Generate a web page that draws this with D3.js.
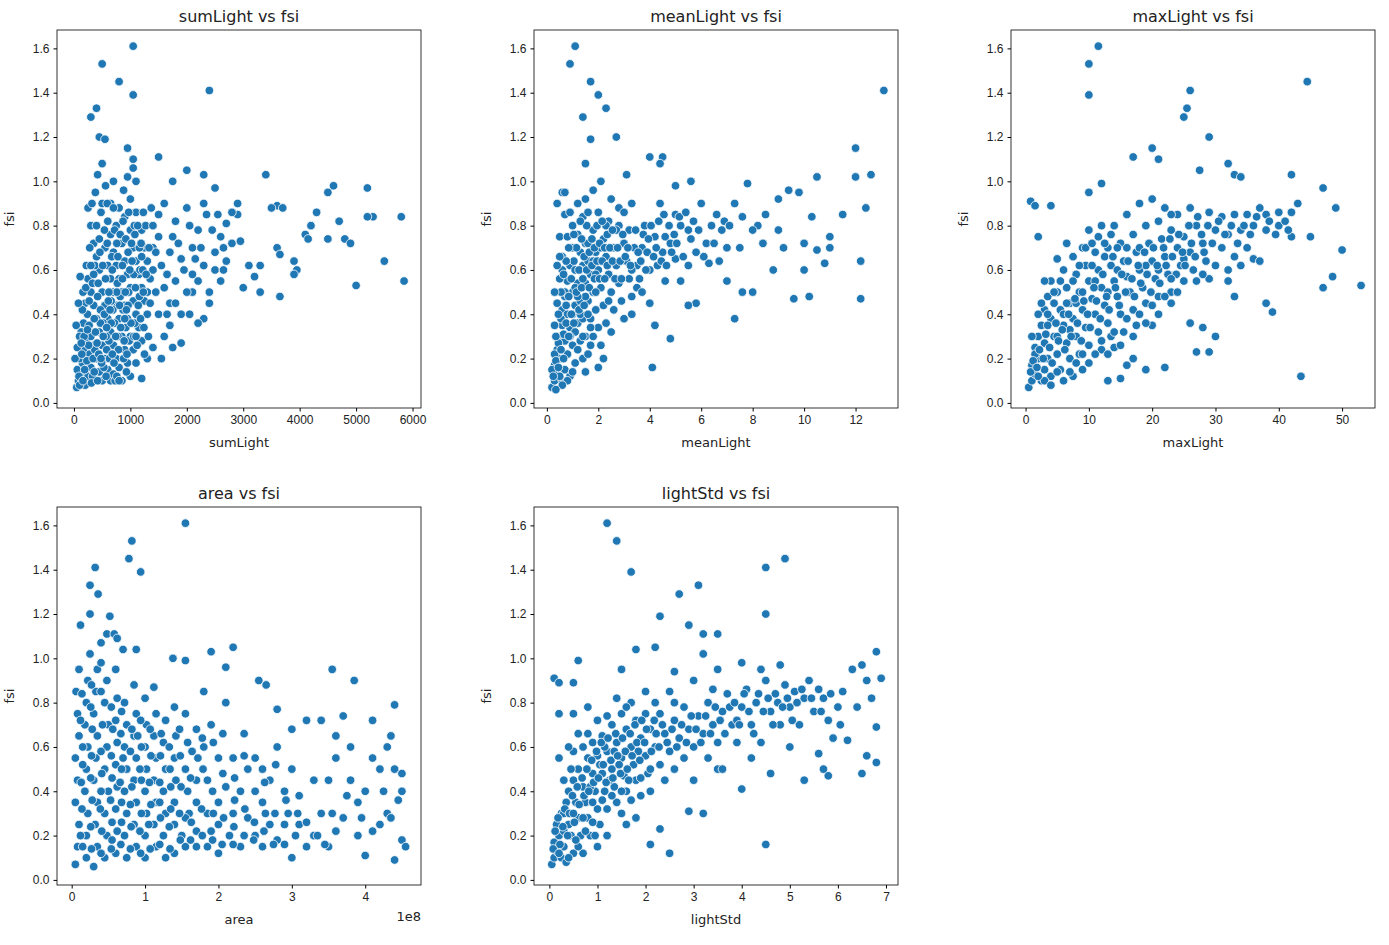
<!DOCTYPE html>
<html><head><meta charset="utf-8">
<script src="https://cdn.jsdelivr.net/npm/d3@7"></script>
<style>
body{margin:0;background:#fff;font-family:"DejaVu Sans",sans-serif;}
.tick text{font-size:12px;fill:#222;}
.title{font-size:16px;fill:#222;}
.lab{font-size:13px;fill:#222;}
</style></head><body><div id="chart"></div>
<script>
// fsi against each light / area variable
const sumLight = [[1050,1.61],[500,1.53],[800,1.45],[1050,1.39],[2400,1.41],[400,1.33],[300,1.29],[450,1.2],[550,1.19],[950,1.15],[1050,1.1],[1500,1.11],[500,1.08],[1050,1.06],[2000,1.05],[2300,1.03],[3400,1.03],[950,1.02],[1100,1.0],[1750,1.0],[4600,0.98],[5200,0.97],[2500,0.97],[4500,0.95],[5800,0.84],[5300,0.84],[5200,0.84],[4700,0.82],[4300,0.86],[4200,0.8],[4100,0.76],[4150,0.74],[4500,0.74],[4800,0.74],[4900,0.72],[5000,0.53],[5500,0.64],[5850,0.55],[3600,0.89],[3700,0.88],[3500,0.88],[3600,0.7],[3650,0.67],[3650,0.48],[3900,0.64],[3950,0.6],[3900,0.58],[3300,0.62],[3300,0.5],[3200,0.57],[3000,0.52],[2900,0.9],[2900,0.85],[2800,0.86],[2700,0.81],[2600,0.75],[2800,0.72],[2700,0.64],[2500,0.6],[2600,0.55],[2400,0.5],[2300,0.38],[2200,0.36],[2400,0.45],[2100,0.7],[2200,0.78],[2000,0.88],[1900,0.65],[1800,0.55],[1700,0.45],[1600,0.3],[1700,0.35],[1900,0.4],[1900,0.27],[1800,0.82],[2100,0.58],[2300,0.62],[2500,0.68],[2300,0.9],[2100,0.5],[1600,0.9],[1500,0.75],[1400,0.6],[1300,0.5],[1500,0.4],[1400,0.25],[1300,0.2],[1200,0.11],[1600,0.52],[1700,0.68],[1500,0.85],[1400,0.7],
[50,0.07],[80,0.1],[120,0.13],[60,0.15],[150,0.18],[100,0.2],[200,0.08],[250,0.12],[300,0.16],[180,0.24],[220,0.28],[280,0.22],[130,0.32],[170,0.36],[240,0.4],[300,0.3],[350,0.26],[400,0.2],[450,0.14],[500,0.1],[350,0.44],[300,0.5],[250,0.56],[200,0.45],[400,0.38],[450,0.32],[500,0.26],[550,0.2],[600,0.15],[650,0.1],[700,0.13],[450,0.6],[400,0.66],[350,0.72],[300,0.8],[250,0.88],[500,0.5],[550,0.44],[600,0.38],[650,0.32],[700,0.26],[750,0.2],[800,0.16],[850,0.1],[550,0.7],[600,0.62],[650,0.56],[700,0.5],[750,0.44],[800,0.38],[850,0.3],[900,0.24],[950,0.18],[1000,0.12],[600,0.82],[650,0.76],[700,0.68],[750,0.62],[800,0.56],[850,0.5],[900,0.44],[950,0.38],[1000,0.3],[1050,0.24],[1100,0.18],[650,0.9],[750,0.8],[850,0.72],[900,0.64],[950,0.58],[1000,0.52],[1050,0.46],[1100,0.4],[1150,0.34],[1200,0.28],[800,0.88],[900,0.84],[1000,0.78],[1050,0.7],[1100,0.64],[1150,0.58],[1200,0.52],[1250,0.46],[1300,0.4],[1000,0.92],[1100,0.86],[1200,0.78],[1250,0.7],[1300,0.64],[1350,0.56],[1200,0.66],[350,0.58],[420,0.48],[520,0.36],[620,0.28],[720,0.36],[820,0.48],[920,0.34],[150,0.42],[100,0.3],[60,0.25],[40,0.35],[220,0.62],[320,0.9],[380,0.95],[420,1.03],[560,0.98],[700,1.0],[880,0.96],[480,0.86],[560,0.56],[660,0.46],[760,0.72],[860,0.62],[960,0.68],[1060,0.58],[1160,0.48],[1160,0.7],[780,0.3],[880,0.2],[980,0.28],[1080,0.36],[1250,0.22],[330,0.12],[530,0.16],[730,0.1],[930,0.14],[110,0.57],[80,0.45],[20,0.2],[270,0.35],[370,0.24],[470,0.42],[570,0.3],[670,0.66],[770,0.54],[870,0.42],[970,0.5],[1070,0.8],[1170,0.6],[1270,0.8],[1370,0.88],[1400,0.8],[1450,0.68],[1350,0.45]];
const sumLightDense = [[90,0.12],[140,0.22],[190,0.15],[230,0.19],[260,0.26],[310,0.09],[340,0.2],[380,0.32],[410,0.27],[440,0.22],[470,0.36],[490,0.18],[520,0.3],[540,0.4],[580,0.24],[610,0.46],[630,0.2],[660,0.36],[690,0.42],[710,0.18],[740,0.3],[760,0.5],[790,0.24],[810,0.44],[830,0.34],[860,0.56],[890,0.28],[910,0.5],[940,0.22],[960,0.44],[990,0.6],[1010,0.36],[1030,0.64],[1060,0.3],[1090,0.52],[1120,0.26],[1140,0.44],[1180,0.38],[1220,0.6],[1240,0.34],[1280,0.58],[1320,0.3],[160,0.5],[210,0.52],[270,0.46],[330,0.54],[370,0.62],[430,0.54],[460,0.68],[510,0.62],[540,0.78],[590,0.72],[620,0.5],[680,0.6],[720,0.78],[780,0.66],[820,0.76],[870,0.82],[920,0.74],[970,0.86],[1020,0.72],[1080,0.76],[1130,0.8],[1190,0.72],[1230,0.86],[300,0.62],[280,0.7],[400,0.8],[450,0.74],[500,0.9],[590,0.9],[700,0.88],[180,0.3],[130,0.27],[240,0.33],[360,0.38],[580,0.34],[640,0.42],[900,0.38],[1100,0.3],[100,0.08],[160,0.1],[420,0.1],[570,0.12],[760,0.12],[800,0.1],[360,0.14],[480,0.2],[680,0.22],[930,0.42],[1230,0.5],[1330,0.7],[1450,0.5],[1550,0.62],[1650,0.58],[1750,0.75],[1850,0.72],[1950,0.6],[2050,0.8],[2150,0.65],[2250,0.7],[2350,0.85],[2450,0.78],[2550,0.85],[2650,0.7],[1800,0.45],[2000,0.5],[1650,0.4],[1750,0.25],[1550,0.2],[2050,0.4],[2200,0.55],[2650,0.6],[2950,0.73],[3100,0.62]];

const meanLight = [[1.1,1.61],[0.9,1.53],[1.7,1.45],[2.0,1.39],[13.1,1.41],[2.3,1.33],[1.4,1.29],[2.7,1.2],[1.7,1.19],[12.0,1.15],[4.0,1.11],[4.5,1.11],[4.4,1.08],[1.5,1.08],[0.4,0.9],[0.6,0.95],[0.7,0.95],[2.1,1.0],[3.1,1.03],[5.0,0.98],[5.6,1.0],[7.8,0.99],[9.4,0.96],[9.8,0.95],[10.5,1.02],[12.6,1.03],[12.0,1.02],[11.5,0.85],[11.0,0.75],[12.4,0.88],[12.2,0.64],[12.2,0.47],[10.8,0.63],[10.5,0.69],[10.2,0.48],[9.6,0.47],[10.0,0.6],[10.0,0.72],[9.0,0.78],[8.5,0.85],[8.0,0.5],[7.6,0.5],[7.3,0.38],[7.0,0.55],[7.0,0.7],[6.8,0.78],[6.3,0.63],[6.0,0.9],[6.2,0.72],[5.8,0.45],[5.5,0.44],[5.2,0.55],[5.0,0.65],[5.5,0.78],[5.0,0.85],[4.8,0.29],[4.2,0.35],[4.1,0.16],[4.0,0.45],[3.5,0.52],[3.7,0.7],[3.8,0.8],[3.3,0.9],[4.4,0.9],[4.3,0.62],[4.6,0.75],[6.6,0.85],[7.3,0.9],[8.2,0.8],[9.0,0.92],[11.0,0.7],[8.8,0.6],
[0.2,0.07],[0.3,0.1],[0.4,0.13],[0.3,0.17],[0.5,0.2],[0.4,0.24],[0.6,0.1],[0.7,0.15],[0.5,0.3],[0.6,0.35],[0.7,0.28],[0.8,0.22],[0.9,0.12],[0.6,0.42],[0.7,0.48],[0.8,0.4],[0.9,0.34],[1.0,0.26],[1.1,0.18],[0.8,0.55],[0.9,0.62],[1.0,0.5],[1.1,0.44],[1.2,0.36],[1.3,0.28],[1.4,0.2],[1.0,0.7],[1.1,0.6],[1.2,0.54],[1.3,0.46],[1.4,0.38],[1.5,0.3],[1.6,0.22],[1.2,0.76],[1.3,0.68],[1.4,0.62],[1.5,0.54],[1.6,0.46],[1.7,0.38],[1.8,0.3],[1.4,0.84],[1.5,0.72],[1.6,0.64],[1.7,0.58],[1.8,0.5],[1.9,0.42],[2.0,0.34],[2.1,0.26],[1.6,0.86],[1.8,0.78],[1.9,0.68],[2.0,0.6],[2.1,0.52],[2.2,0.44],[2.3,0.36],[2.0,0.86],[2.2,0.74],[2.3,0.66],[2.4,0.58],[2.5,0.5],[2.6,0.42],[2.4,0.82],[2.6,0.7],[2.7,0.62],[2.8,0.54],[2.9,0.46],[3.0,0.38],[2.8,0.8],[3.0,0.72],[3.1,0.64],[3.2,0.56],[3.3,0.48],[3.2,0.78],[3.4,0.7],[3.5,0.62],[3.6,0.56],[3.9,0.68],[4.0,0.6],[4.2,0.75],[4.5,0.68],[4.8,0.72],[5.2,0.8],[5.8,0.68],[0.5,0.56],[0.4,0.45],[0.3,0.35],[0.5,0.75],[0.6,0.66],[0.7,0.85],[0.8,0.75],[0.9,0.86],[1.0,0.8],[1.2,0.9],[1.5,0.92],[1.8,0.96],[2.5,0.92],[2.8,0.88],[3.0,0.86],[0.2,0.15],[0.3,0.22],[0.4,0.3],[0.5,0.12],[0.8,0.1],[1.1,0.32],[1.3,0.4],[1.5,0.48],[1.7,0.26],[1.9,0.58],[2.1,0.7],[2.3,0.8],[2.5,0.32],[2.7,0.78],[3.3,0.6],[3.7,0.5],[4.6,0.55],[5.5,0.62],[6.5,0.72],[7.5,0.7],[8.0,0.78],[9.2,0.7],[10.3,0.84],[1.0,0.4],[1.2,0.48],[1.4,0.56],[1.6,0.72],[1.8,0.64],[0.9,0.3],[0.7,0.5],[0.6,0.6],[1.1,0.52],[1.3,0.6],[2.2,0.2],[2.0,0.16],[1.5,0.14]];
const meanLightDense = [[0.25,0.12],[0.35,0.19],[0.45,0.16],[0.45,0.27],[0.55,0.24],[0.55,0.38],[0.65,0.31],[0.65,0.2],[0.75,0.36],[0.75,0.44],[0.85,0.3],[0.85,0.48],[0.95,0.4],[0.95,0.56],[1.05,0.36],[1.05,0.64],[1.15,0.5],[1.15,0.7],[1.25,0.42],[1.25,0.6],[1.35,0.52],[1.35,0.74],[1.45,0.44],[1.45,0.66],[1.55,0.6],[1.55,0.8],[1.65,0.52],[1.65,0.68],[1.75,0.62],[1.75,0.74],[1.85,0.56],[1.85,0.7],[1.95,0.64],[1.95,0.8],[2.05,0.56],[2.05,0.72],[2.15,0.64],[2.15,0.82],[2.25,0.56],[2.25,0.7],[2.35,0.62],[2.35,0.76],[2.45,0.7],[2.55,0.64],[2.55,0.78],[2.65,0.56],[2.75,0.7],[2.85,0.64],[2.95,0.76],[3.05,0.66],[3.15,0.7],[3.25,0.62],[3.45,0.78],[3.55,0.68],[3.65,0.64],[3.75,0.76],[3.85,0.6],[3.95,0.74],[4.05,0.8],[4.15,0.66],[4.25,0.7],[4.35,0.82],[4.45,0.64],[4.55,0.85],[4.65,0.62],[4.75,0.8],[4.85,0.68],[4.95,0.76],[5.05,0.72],[5.15,0.84],[5.3,0.66],[5.4,0.86],[5.6,0.74],[5.7,0.82],[5.9,0.78],[6.1,0.66],[6.4,0.8],[6.7,0.64],[6.9,0.82],[7.1,0.8],[7.6,0.84],[8.4,0.72],[0.35,0.3],[0.45,0.4],[0.55,0.5],[0.65,0.58],[0.75,0.64],[0.85,0.7],[1.05,0.76],[1.3,0.82],[0.3,0.5],[0.4,0.62],[0.5,0.66],[1.7,0.34],[1.9,0.5],[2.4,0.46],[2.9,0.56],[3.3,0.4],[1.2,0.24],[1.4,0.3],[0.6,0.08],[0.35,0.06],[1.0,0.14],[1.6,0.4]];

const maxLight = [[11.5,1.61],[10,1.53],[10,1.39],[44.5,1.45],[26,1.41],[25.5,1.33],[25,1.29],[29,1.2],[20,1.15],[21,1.1],[17,1.11],[12,0.99],[10,0.95],[0.8,0.91],[1.5,0.89],[4,0.89],[2,0.75],[32,1.08],[27.5,1.05],[33,1.03],[34,1.02],[42,1.03],[47,0.97],[49,0.88],[50,0.69],[48.5,0.57],[53,0.53],[47,0.52],[45,0.75],[43,0.9],[42,0.75],[40,0.8],[38,0.85],[38,0.45],[39,0.41],[36,0.65],[35,0.7],[33,0.48],[32,0.6],[30,0.3],[29,0.23],[28,0.34],[27,0.23],[26,0.36],[43.5,0.12],[22,0.16],[19,0.15],[20,0.35],[17,0.2],[15,0.11],[16,0.17],[14,0.25],[13,0.1],
[0.5,0.07],[1,0.1],[1.5,0.13],[1,0.17],[2,0.2],[1.5,0.25],[2.5,0.1],[3,0.15],[2,0.3],[2.5,0.35],[3,0.27],[3.5,0.2],[4,0.12],[3,0.42],[3.5,0.48],[4,0.38],[4.5,0.3],[5,0.22],[5.5,0.15],[4,0.55],[5,0.5],[5.5,0.42],[6,0.35],[6.5,0.27],[7,0.2],[7.5,0.12],[5,0.65],[6,0.6],[6.5,0.52],[7,0.45],[7.5,0.38],[8,0.3],[8.5,0.22],[9,0.15],[6.5,0.72],[7.5,0.66],[8,0.58],[8.5,0.5],[9,0.42],[9.5,0.34],[10,0.26],[9,0.7],[9.5,0.62],[10,0.55],[10.5,0.47],[11,0.4],[11.5,0.32],[12,0.24],[10,0.78],[11,0.68],[11.5,0.6],[12,0.52],[12.5,0.44],[13,0.36],[13.5,0.3],[12,0.8],[13,0.7],[13.5,0.62],[14,0.55],[14.5,0.48],[15,0.4],[15.5,0.32],[14,0.8],[15,0.72],[15.5,0.64],[16,0.57],[16.5,0.5],[17,0.42],[17.5,0.35],[16,0.85],[17,0.76],[17.5,0.68],[18,0.6],[18.5,0.52],[19,0.45],[18,0.9],[19,0.8],[19.5,0.72],[20,0.64],[20.5,0.56],[21,0.48],[20,0.92],[21,0.82],[21.5,0.74],[22,0.66],[22.5,0.58],[23,0.5],[22,0.88],[23,0.78],[24,0.7],[24.5,0.62],[25,0.55],[24,0.85],[25,0.75],[26,0.68],[26.5,0.6],[26,0.88],[27,0.8],[28,0.72],[28.5,0.64],[29,0.56],[29,0.86],[30,0.78],[31,0.7],[31,0.84],[32,0.76],[33,0.85],[34,0.78],[34,0.62],[35,0.85],[36,0.8],[37,0.88],[38,0.78],[40,0.86],[41,0.82],[42,0.86],[37,0.64],[33,0.66],[30,0.62],[27,0.55],[23,0.45],[19,0.62],[16,0.7],[13,0.5],[11,0.55],[8,0.45],[6,0.4],[4.5,0.45],[3.5,0.35],[2,0.4],[1,0.3],[1.5,0.22],[0.8,0.14],[3,0.55],[5,0.3],[7,0.33],[9,0.5],[10.5,0.62],[12.5,0.66],[14.5,0.6],[18,0.7],[21,0.6],[25,0.65],[28,0.58],[32,0.55],[23,0.85]];
const maxLightDense = [[1.2,0.19],[1.8,0.16],[2.2,0.24],[2.8,0.2],[3.2,0.31],[3.8,0.25],[4.2,0.18],[4.8,0.36],[5.2,0.28],[5.8,0.33],[6.2,0.24],[6.8,0.4],[7.2,0.3],[7.8,0.47],[8.2,0.36],[8.8,0.28],[9.2,0.46],[9.8,0.4],[10.2,0.34],[10.8,0.52],[11.2,0.46],[11.8,0.38],[12.2,0.58],[12.8,0.48],[13.2,0.42],[13.8,0.66],[14.2,0.52],[14.8,0.44],[15.2,0.58],[15.8,0.5],[16.2,0.64],[16.8,0.56],[17.2,0.48],[17.8,0.62],[18.2,0.54],[18.8,0.68],[19.2,0.58],[19.8,0.5],[20.2,0.7],[20.8,0.62],[21.2,0.54],[21.8,0.7],[22.2,0.62],[22.8,0.74],[23.2,0.66],[23.8,0.58],[24.2,0.76],[24.8,0.68],[25.2,0.62],[25.8,0.8],[26.2,0.72],[26.8,0.66],[27.2,0.84],[27.8,0.76],[28.2,0.68],[28.8,0.8],[29.5,0.72],[30.5,0.82],[31.5,0.76],[32.5,0.8],[33.5,0.72],[34.5,0.8],[35.5,0.76],[36.5,0.84],[38.5,0.82],[39.5,0.76],[41.5,0.78],[2.5,0.45],[3.5,0.4],[4.5,0.5],[5.5,0.55],[6.5,0.45],[7.5,0.55],[8.5,0.62],[9.5,0.7],[10.5,0.72],[11.5,0.75],[12.5,0.72],[13.5,0.76],[14.5,0.7],[5,0.14],[6,0.1],[7,0.14],[8,0.18],[9,0.22],[10,0.18],[11,0.22],[12,0.28],[13,0.22],[14,0.32],[15,0.26],[16,0.38],[17,0.3],[18,0.4],[19,0.36],[20,0.44],[21,0.4],[22,0.48],[23,0.56],[24,0.5],[3,0.1],[4,0.08],[2,0.12]];

const area = [[1.55,1.61],[0.82,1.53],[0.78,1.45],[0.94,1.39],[0.32,1.41],[0.25,1.33],[0.36,1.29],[0.25,1.2],[0.52,1.19],[0.12,1.15],[0.48,1.11],[0.58,1.11],[0.62,1.09],[0.4,1.07],[0.88,1.04],[0.7,1.04],[1.38,1.0],[1.55,0.99],[1.9,1.03],[2.2,1.05],[2.1,0.96],[2.55,0.9],[2.65,0.88],[3.55,0.95],[3.85,0.9],[4.4,0.79],[4.1,0.72],[3.7,0.74],[3.4,0.72],[3.2,0.72],[3.0,0.68],[2.8,0.77],[4.35,0.65],[4.3,0.6],[4.4,0.5],[4.5,0.48],[4.5,0.4],[4.45,0.36],[4.3,0.3],[4.5,0.18],[4.55,0.15],[4.4,0.09],[4.0,0.11],[3.9,0.2],[4.0,0.4],[4.2,0.5],[4.1,0.55],[3.8,0.6],[3.6,0.55],[3.5,0.45],[3.4,0.3],[3.3,0.2],[3.2,0.15],[3.1,0.38],[3.0,0.5],[3.0,0.1],[2.9,0.25],[2.8,0.6],[2.7,0.45],[2.6,0.35],[2.5,0.2],[2.4,0.5],[2.35,0.66],[2.3,0.15],[2.2,0.3],[2.1,0.42],[2.0,0.55],[1.9,0.7],[1.8,0.6],[1.7,0.45],[1.6,0.3],[1.5,0.2],[1.4,0.12],[1.8,0.85],[1.7,0.15],[1.9,0.22],[2.0,0.12],[2.1,0.8],[2.5,0.55],[2.7,0.25],[3.3,0.45],[3.6,0.65],[3.7,0.28],[3.9,0.35],[4.2,0.25],[2.9,0.4],
[0.05,0.07],[0.08,0.15],[0.1,0.25],[0.05,0.35],[0.08,0.45],[0.05,0.55],[0.1,0.65],[0.08,0.75],[0.06,0.85],[0.1,0.95],[0.2,0.1],[0.2,0.2],[0.22,0.3],[0.18,0.4],[0.2,0.5],[0.22,0.6],[0.18,0.7],[0.2,0.8],[0.22,0.9],[0.3,0.06],[0.35,0.15],[0.32,0.25],[0.35,0.35],[0.3,0.45],[0.33,0.55],[0.35,0.65],[0.3,0.75],[0.33,0.85],[0.35,0.95],[0.45,0.1],[0.48,0.2],[0.45,0.3],[0.5,0.4],[0.45,0.5],[0.48,0.6],[0.5,0.7],[0.45,0.8],[0.48,0.9],[0.6,0.12],[0.62,0.22],[0.6,0.32],[0.62,0.42],[0.6,0.52],[0.62,0.62],[0.6,0.72],[0.62,0.82],[0.6,0.95],[0.75,0.1],[0.72,0.2],[0.75,0.3],[0.72,0.4],[0.75,0.5],[0.72,0.6],[0.75,0.7],[0.72,0.8],[0.88,0.15],[0.85,0.25],[0.88,0.35],[0.85,0.45],[0.88,0.55],[0.85,0.65],[0.88,0.75],[0.85,0.88],[1.0,0.1],[1.0,0.2],[1.02,0.3],[1.0,0.4],[1.02,0.5],[1.0,0.6],[1.02,0.7],[1.0,0.82],[1.15,0.15],[1.12,0.25],[1.15,0.35],[1.12,0.45],[1.15,0.55],[1.12,0.65],[1.15,0.75],[1.12,0.87],[1.28,0.1],[1.25,0.2],[1.28,0.3],[1.25,0.4],[1.28,0.5],[1.25,0.62],[1.28,0.72],[1.4,0.25],[1.4,0.35],[1.42,0.45],[1.4,0.55],[1.42,0.65],[1.4,0.78],[1.55,0.15],[1.55,0.28],[1.58,0.4],[1.55,0.5],[1.58,0.62],[1.55,0.75],[1.7,0.22],[1.7,0.35],[1.72,0.55],[1.7,0.68],[1.85,0.15],[1.85,0.3],[1.85,0.45],[2.0,0.25],[2.0,0.35],[2.15,0.2],[2.2,0.55],[2.3,0.4],[2.4,0.28],[2.6,0.15],[2.6,0.5],[2.8,0.18],[2.95,0.3],[3.1,0.25],[3.5,0.15],[3.8,0.45],[0.15,0.6],[0.25,1.02],[0.4,0.98],[0.55,0.18],[0.68,0.35],[0.95,0.45],[1.05,0.25],[1.35,0.42],[0.15,0.15],[0.4,0.4],[0.7,0.55],[0.9,0.65],[1.2,0.35]];
const areaDense = [[0.12,0.2],[0.14,0.32],[0.13,0.44],[0.15,0.52],[0.12,0.72],[0.14,0.84],[0.27,0.14],[0.26,0.24],[0.28,0.36],[0.26,0.46],[0.27,0.56],[0.28,0.68],[0.26,0.78],[0.27,0.88],[0.4,0.12],[0.41,0.22],[0.39,0.32],[0.41,0.48],[0.4,0.58],[0.42,0.7],[0.4,0.85],[0.54,0.14],[0.55,0.26],[0.53,0.36],[0.55,0.46],[0.54,0.56],[0.56,0.68],[0.54,0.78],[0.67,0.16],[0.68,0.26],[0.66,0.44],[0.68,0.5],[0.67,0.66],[0.68,0.76],[0.8,0.14],[0.81,0.24],[0.8,0.34],[0.82,0.42],[0.8,0.58],[0.82,0.68],[0.94,0.12],[0.93,0.22],[0.95,0.3],[0.93,0.5],[0.95,0.6],[0.94,0.72],[1.07,0.14],[1.08,0.34],[1.06,0.44],[1.08,0.56],[1.07,0.68],[1.2,0.16],[1.21,0.28],[1.2,0.44],[1.21,0.56],[1.22,0.66],[1.34,0.14],[1.33,0.24],[1.35,0.32],[1.34,0.5],[1.33,0.6],[1.48,0.18],[1.47,0.3],[1.49,0.42],[1.48,0.56],[1.47,0.68],[1.62,0.18],[1.63,0.26],[1.62,0.46],[1.64,0.58],[1.78,0.2],[1.77,0.32],[1.79,0.5],[1.78,0.64],[1.92,0.18],[1.93,0.3],[1.92,0.4],[1.93,0.62],[2.05,0.16],[2.07,0.28],[2.06,0.48],[2.06,0.66],[2.2,0.16],[2.21,0.24],[2.22,0.36],[2.22,0.46],[2.35,0.2],[2.36,0.32],[2.35,0.56],[2.48,0.18],[2.49,0.26],[2.5,0.4],[2.62,0.22],[2.64,0.3],[2.63,0.44],[2.75,0.16],[2.77,0.3],[2.78,0.52],[2.9,0.16],[2.92,0.36],[3.05,0.2],[3.08,0.3],[3.2,0.26],[3.35,0.2],[3.45,0.16],[3.55,0.3],[3.6,0.22],[3.75,0.38],[3.95,0.28],[4.1,0.22],[4.25,0.4],[4.35,0.28]];

const lightStd = [[1.2,1.61],[1.4,1.53],[1.7,1.39],[4.9,1.45],[4.5,1.41],[3.1,1.33],[2.7,1.29],[4.5,1.2],[2.3,1.19],[2.9,1.15],[3.2,1.11],[3.5,1.11],[3.2,1.02],[4.0,0.98],[4.8,0.97],[6.8,1.03],[6.5,0.97],[0.1,0.91],[0.2,0.89],[0.6,0.99],[1.5,0.95],[1.8,1.04],[2.2,1.05],[2.6,0.94],[0.5,0.89],[0.2,0.75],[0.5,0.75],[0.8,0.78],[6.9,0.91],[6.7,0.82],[6.8,0.69],[6.6,0.56],[6.8,0.53],[6.5,0.48],[6.2,0.63],[5.8,0.47],[5.9,0.64],[5.7,0.5],[5.3,0.45],[5.6,0.57],[5.0,0.6],[4.5,0.16],[4.6,0.48],[4.0,0.41],[3.5,0.5],[3.2,0.3],[2.9,0.31],[2.5,0.12],[2.3,0.23],[2.1,0.16],[1.8,0.28],[0.3,0.45],[0.2,0.55],[0.5,0.58],
[0.05,0.07],[0.1,0.1],[0.15,0.13],[0.1,0.17],[0.2,0.2],[0.15,0.25],[0.25,0.1],[0.3,0.15],[0.25,0.3],[0.35,0.35],[0.4,0.25],[0.45,0.2],[0.5,0.12],[0.4,0.4],[0.5,0.45],[0.55,0.35],[0.6,0.28],[0.65,0.2],[0.7,0.12],[0.6,0.5],[0.7,0.42],[0.75,0.35],[0.8,0.28],[0.85,0.2],[0.8,0.55],[0.9,0.48],[0.95,0.4],[1.0,0.32],[1.05,0.25],[0.9,0.62],[1.0,0.56],[1.1,0.48],[1.15,0.4],[1.2,0.32],[1.1,0.65],[1.2,0.58],[1.3,0.5],[1.35,0.42],[1.4,0.35],[1.3,0.7],[1.4,0.62],[1.5,0.55],[1.55,0.47],[1.6,0.4],[1.5,0.75],[1.6,0.68],[1.7,0.6],[1.75,0.52],[1.8,0.45],[1.7,0.8],[1.8,0.72],[1.9,0.64],[2.0,0.56],[2.05,0.48],[2.0,0.75],[2.1,0.68],[2.2,0.6],[2.3,0.52],[2.3,0.75],[2.4,0.66],[2.5,0.58],[2.6,0.72],[2.7,0.64],[2.8,0.78],[2.9,0.68],[3.0,0.6],[3.1,0.74],[3.2,0.66],[3.3,0.8],[3.4,0.7],[3.5,0.62],[3.6,0.76],[3.7,0.84],[3.8,0.7],[3.9,0.62],[4.0,0.78],[4.1,0.86],[4.2,0.7],[4.3,0.8],[4.4,0.62],[4.5,0.9],[4.6,0.76],[4.7,0.84],[4.8,0.7],[4.9,0.88],[5.0,0.78],[5.1,0.85],[5.2,0.7],[5.3,0.82],[5.4,0.9],[5.5,0.76],[5.6,0.86],[5.7,0.82],[5.8,0.72],[6.0,0.78],[6.1,0.85],[6.3,0.95],[6.4,0.78],[6.6,0.9],[0.3,0.22],[0.35,0.08],[0.6,0.15],[0.9,0.35],[1.0,0.15],[1.2,0.2],[1.5,0.3],[1.6,0.25],[1.9,0.38],[2.1,0.4],[2.4,0.45],[2.6,0.5],[2.8,0.55],[3.0,0.45],[3.3,0.55],[3.6,0.5],[3.9,0.72],[4.2,0.55],[4.4,0.95],[3.5,0.95],[3.0,0.9],[2.5,0.85],[2.0,0.85],[1.4,0.82],[1.0,0.72],[0.7,0.6],[0.45,0.5],[0.3,0.3],[1.25,0.45],[1.45,0.52],[1.65,0.45],[1.85,0.58],[0.85,0.42],[1.05,0.52],[1.15,0.6],[1.35,0.58]];
const lightStdDense = [[0.08,0.14],[0.12,0.22],[0.18,0.28],[0.22,0.16],[0.28,0.24],[0.32,0.32],[0.38,0.2],[0.42,0.3],[0.48,0.38],[0.52,0.26],[0.58,0.42],[0.62,0.34],[0.68,0.46],[0.72,0.38],[0.78,0.5],[0.82,0.4],[0.88,0.54],[0.92,0.44],[0.98,0.58],[1.02,0.46],[1.08,0.62],[1.12,0.52],[1.18,0.44],[1.22,0.64],[1.28,0.54],[1.32,0.46],[1.38,0.66],[1.42,0.56],[1.48,0.48],[1.52,0.64],[1.58,0.58],[1.62,0.5],[1.68,0.66],[1.72,0.56],[1.78,0.7],[1.82,0.62],[1.88,0.54],[1.92,0.72],[1.98,0.62],[2.02,0.68],[2.12,0.58],[2.18,0.72],[2.22,0.66],[2.28,0.6],[2.35,0.7],[2.45,0.62],[2.55,0.68],[2.65,0.6],[2.75,0.7],[2.85,0.62],[2.95,0.74],[3.05,0.68],[3.15,0.62],[3.25,0.74],[3.35,0.66],[3.45,0.78],[3.55,0.72],[3.65,0.66],[3.75,0.78],[3.85,0.8],[3.95,0.7],[4.05,0.84],[4.15,0.76],[4.25,0.66],[4.35,0.84],[4.45,0.76],[4.55,0.82],[4.65,0.7],[4.75,0.8],[4.85,0.78],[4.95,0.82],[5.05,0.72],[5.15,0.8],[5.25,0.86],[5.45,0.82],[5.65,0.76],[5.85,0.84],[6.05,0.7],[0.5,0.3],[0.7,0.28],[0.9,0.26],[1.1,0.36],[1.3,0.38],[1.5,0.4],[1.7,0.36],[1.9,0.46],[2.1,0.5],[0.4,0.6],[0.6,0.66],[0.8,0.66],[1.2,0.74],[1.6,0.78],[2.2,0.8],[2.6,0.8],[3.4,0.86],[0.2,0.12],[0.4,0.1],[0.55,0.18],[0.75,0.22],[0.95,0.2]];

const panels = [
  {title:"sumLight vs fsi", xl:"sumLight", data:sumLight.concat(sumLightDense), dom:[-300,6150], ticks:[0,1000,2000,3000,4000,5000,6000]},
  {title:"meanLight vs fsi", xl:"meanLight", data:meanLight.concat(meanLightDense), dom:[-0.5,13.65], ticks:[0,2,4,6,8,10,12]},
  {title:"maxLight vs fsi", xl:"maxLight", data:maxLight.concat(maxLightDense), dom:[-2.3,55.2], ticks:[0,10,20,30,40,50]},
  {title:"area vs fsi", xl:"area", data:area.concat(areaDense), dom:[-0.2,4.76], ticks:[0,1,2,3,4], offset:"1e8"},
  {title:"lightStd vs fsi", xl:"lightStd", data:lightStd.concat(lightStdDense), dom:[-0.32,7.25], ticks:[0,1,2,3,4,5,6,7]}
];
const yTicks = [0.0,0.2,0.4,0.6,0.8,1.0,1.2,1.4,1.6];

const W = 1389, H = 945;
const svg = d3.select("#chart").append("svg").attr("width", W).attr("height", H);
const lefts = [57, 534, 1011], tops = [30, 507];
const pw = 364, ph = 378;

panels.forEach((p, i) => {
  const g = svg.append("g").attr("transform", `translate(${lefts[i % 3]},${tops[Math.floor(i / 3)]})`);
  const x = d3.scaleLinear().domain(p.dom).range([0, pw]);
  const y = d3.scaleLinear().domain([-0.023, 1.683]).range([ph, 0]);

  g.selectAll("circle").data(p.data).enter().append("circle")
    .attr("cx", d => x(d[0])).attr("cy", d => y(d[1])).attr("r", 4.3)
    .attr("fill", "#1f77b4").attr("stroke", "#fff").attr("stroke-width", 0.8);

  g.append("g").attr("transform", `translate(0,${ph})`)
    .call(d3.axisBottom(x).tickValues(p.ticks).tickSize(3.5).tickPadding(4).tickFormat(d3.format("d")));
  g.append("g").call(d3.axisLeft(y).tickValues(yTicks).tickSize(3.5).tickPadding(4).tickFormat(d3.format(".1f")));
  g.selectAll(".domain").remove();
  g.append("rect").attr("width", pw).attr("height", ph).attr("fill", "none").attr("stroke", "#000").attr("stroke-width", 0.8);

  g.append("text").attr("class", "title").attr("x", pw / 2).attr("y", -8).attr("text-anchor", "middle").text(p.title);
  g.append("text").attr("class", "lab").attr("x", pw / 2).attr("y", ph + 39).attr("text-anchor", "middle").text(p.xl);
  g.append("text").attr("class", "lab").attr("transform", `translate(-43,${ph / 2}) rotate(-90)`).attr("text-anchor", "middle").text("fsi");
  if (p.offset) g.append("text").attr("class", "lab").attr("x", pw).attr("y", ph + 36).attr("text-anchor", "end").text(p.offset);
});
</script></body></html>
